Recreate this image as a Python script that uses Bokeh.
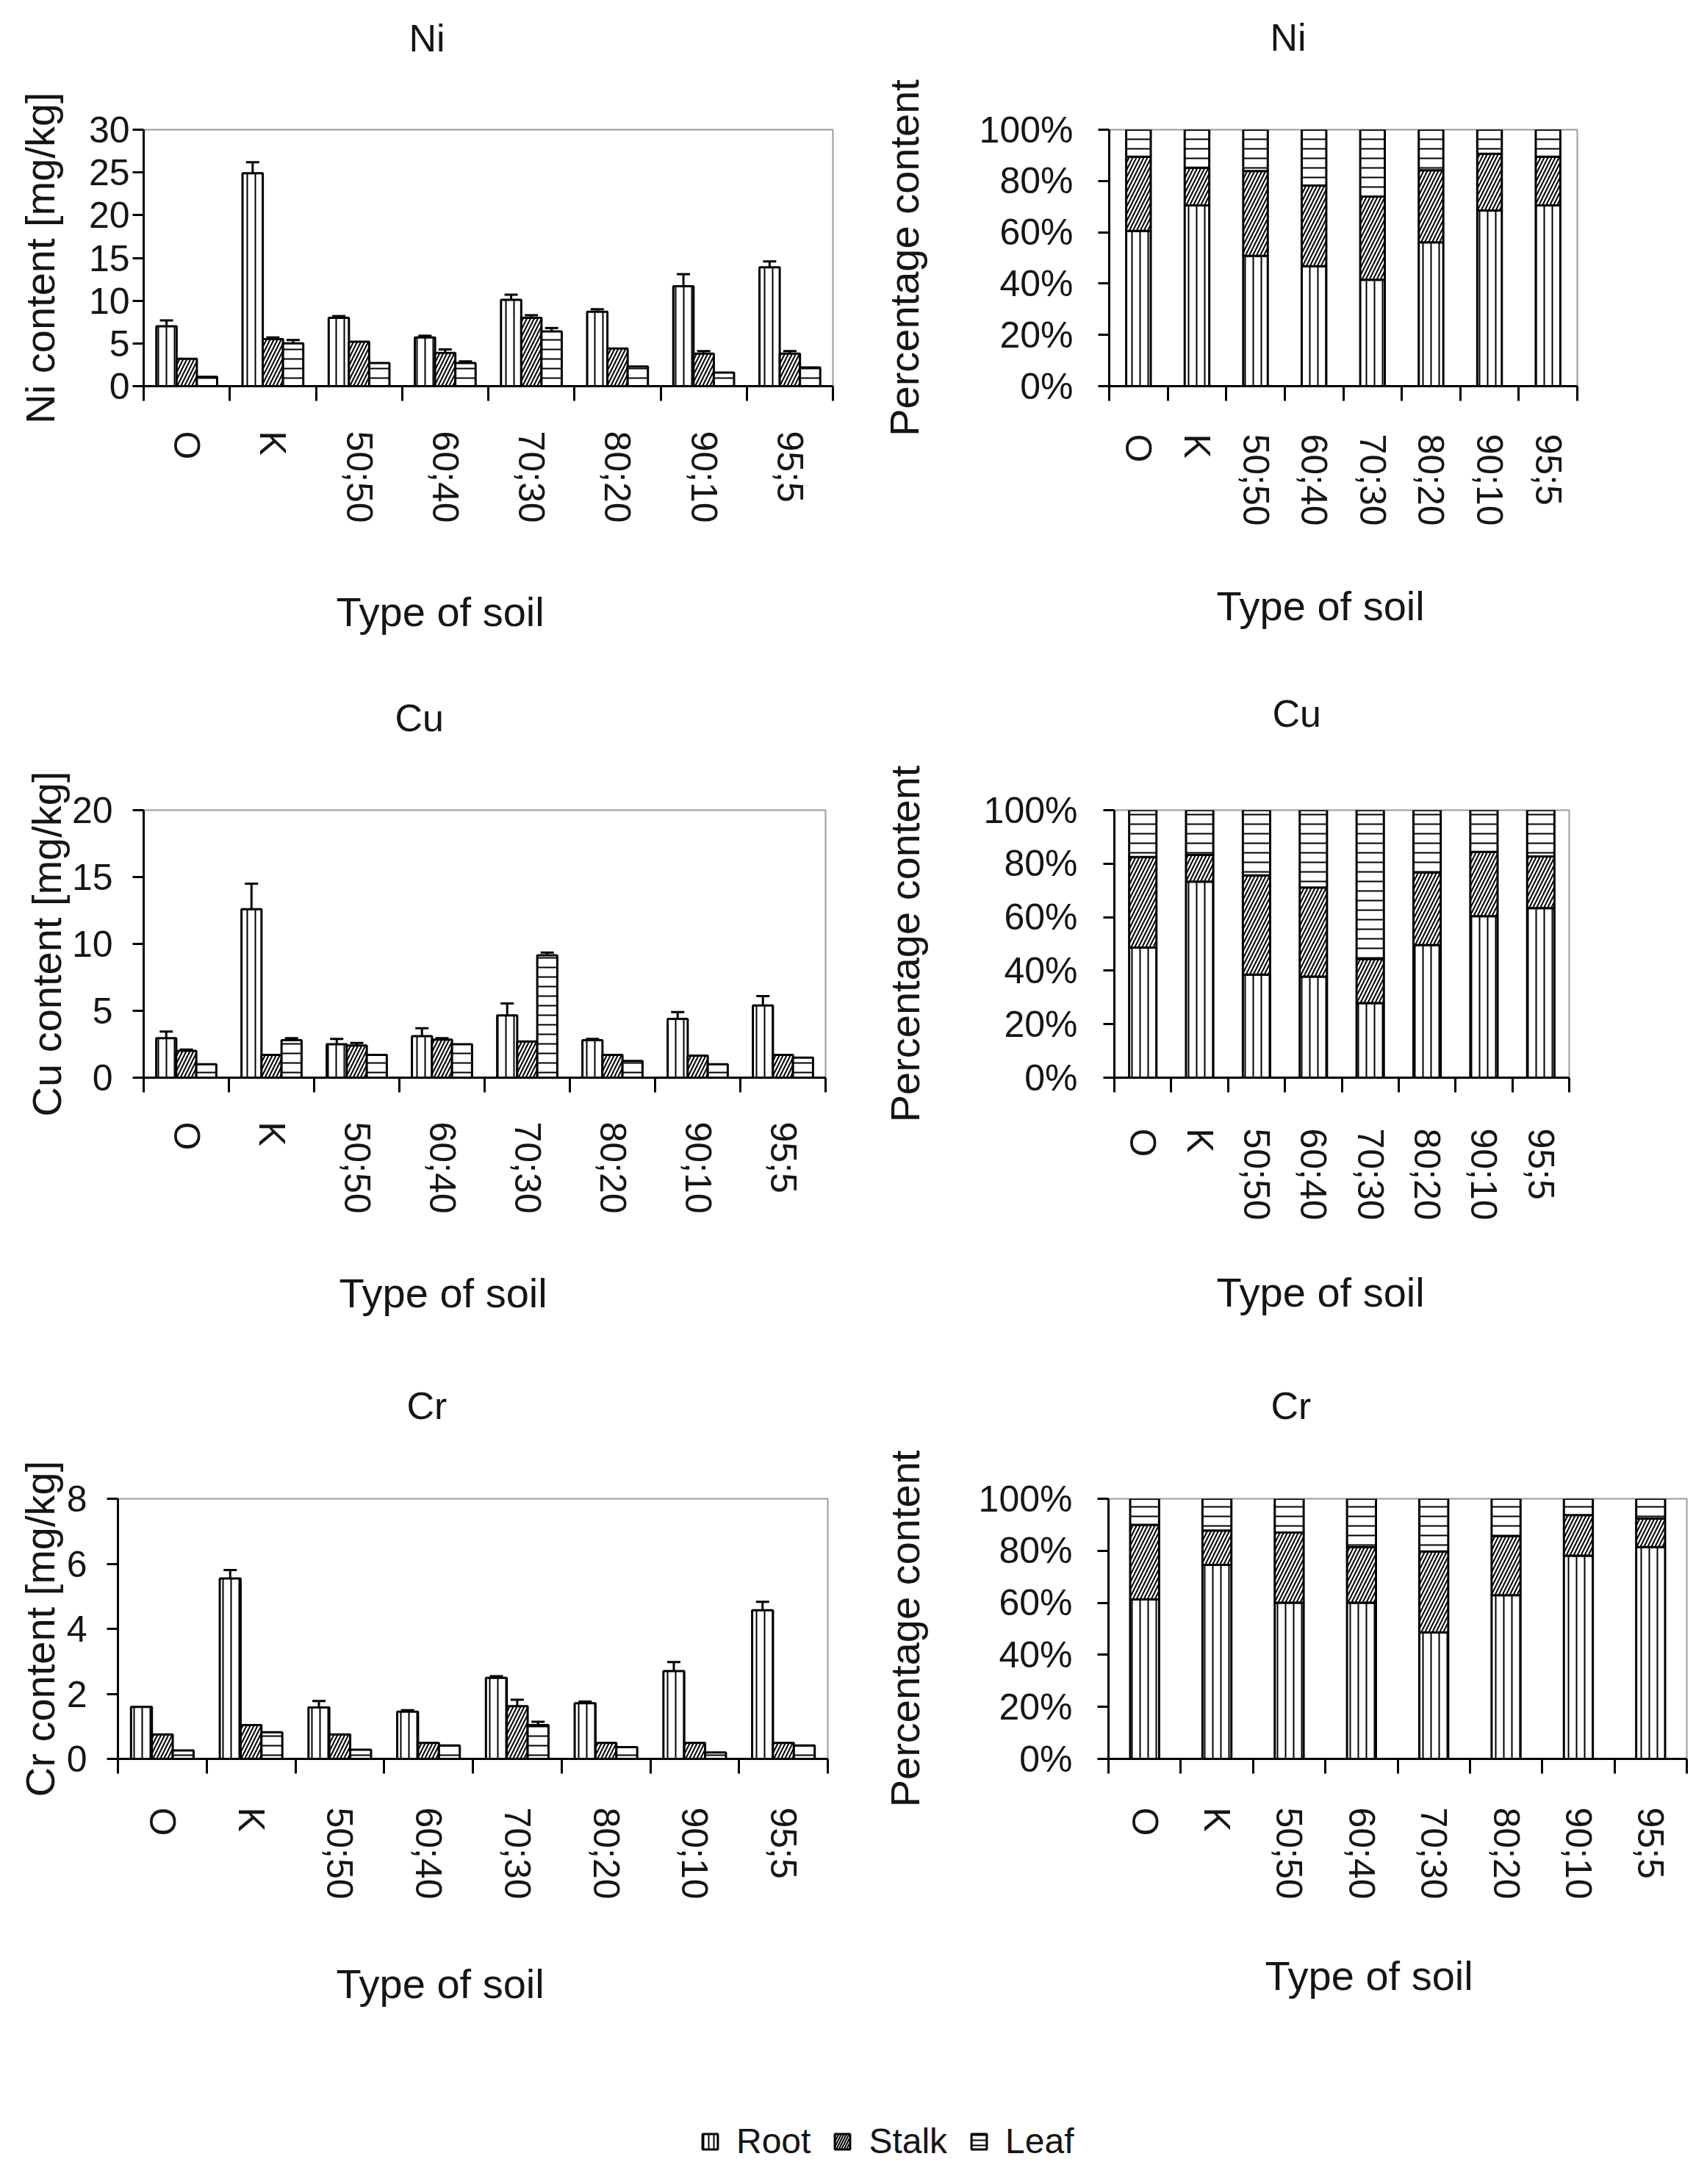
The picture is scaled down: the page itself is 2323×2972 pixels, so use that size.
import math
from bokeh.plotting import figure
from bokeh.models import (ColumnDataSource, FixedTicker, Whisker, TeeHead, Title,
                          PrintfTickFormatter, Legend, LegendItem, Range1d)
from bokeh.layouts import row, column
from bokeh.embed import file_html
from bokeh.resources import INLINE

# ---------------- data ----------------
soils = ["O", "K", "50;50", "60;40", "70;30", "80;20", "90;10", "95;5"]
parts = ["Root", "Stalk", "Leaf"]

# absolute contents [mg/kg]
ni_root = [7.0, 24.9, 8.0, 5.7, 10.1, 8.7, 11.7, 13.9]
ni_root_err = [0.7, 1.3, 0.2, 0.2, 0.6, 0.3, 1.4, 0.7]
ni_stalk = [3.2, 5.5, 5.2, 3.9, 8.0, 4.4, 3.8, 3.8]
ni_stalk_err = [0.0, 0.2, 0.0, 0.4, 0.3, 0.0, 0.3, 0.3]
ni_leaf = [1.1, 5.0, 2.7, 2.7, 6.4, 2.3, 1.6, 2.2]
ni_leaf_err = [0.0, 0.4, 0.0, 0.2, 0.4, 0.0, 0.0, 0.0]

cu_root = [2.95, 12.6, 2.5, 3.1, 4.65, 2.8, 4.4, 5.4]
cu_root_err = [0.5, 1.9, 0.4, 0.6, 0.9, 0.1, 0.5, 0.7]
cu_stalk = [2.0, 1.7, 2.4, 2.85, 2.7, 1.7, 1.65, 1.7]
cu_stalk_err = [0.1, 0.0, 0.2, 0.1, 0.0, 0.0, 0.0, 0.0]
cu_leaf = [1.0, 2.8, 1.7, 2.5, 9.15, 1.25, 1.0, 1.5]
cu_leaf_err = [0.0, 0.15, 0.0, 0.0, 0.2, 0.0, 0.0, 0.0]

cr_root = [1.6, 5.55, 1.58, 1.45, 2.49, 1.71, 2.7, 4.57]
cr_root_err = [0.0, 0.26, 0.2, 0.05, 0.05, 0.05, 0.28, 0.26]
cr_stalk = [0.75, 1.04, 0.75, 0.49, 1.62, 0.49, 0.49, 0.49]
cr_stalk_err = [0.0, 0.0, 0.0, 0.0, 0.2, 0.0, 0.0, 0.0]
cr_leaf = [0.26, 0.82, 0.28, 0.41, 1.04, 0.36, 0.2, 0.41]
cr_leaf_err = [0.0, 0.0, 0.0, 0.0, 0.1, 0.0, 0.0, 0.0]

# percentage content [%]
ni_root_pct = [60.5, 70.5, 50.8, 46.8, 41.5, 56.1, 68.5, 70.5]
ni_stalk_pct = [29.0, 14.7, 33.1, 31.4, 32.4, 28.1, 22.1, 19.0]
ni_leaf_pct = [10.5, 14.8, 16.1, 21.8, 26.1, 15.8, 9.4, 10.5]

cu_root_pct = [48.6, 73.3, 38.5, 37.8, 27.9, 49.6, 60.4, 63.4]
cu_stalk_pct = [33.9, 10.0, 37.1, 33.3, 16.5, 27.1, 24.0, 19.3]
cu_leaf_pct = [17.5, 16.7, 24.4, 28.9, 55.6, 23.3, 15.6, 17.3]

cr_root_pct = [61.3, 74.6, 60.0, 60.0, 48.6, 62.9, 78.1, 81.4]
cr_stalk_pct = [28.7, 13.2, 27.0, 21.4, 31.1, 22.7, 15.6, 11.0]
cr_leaf_pct = [10.0, 12.2, 13.0, 18.6, 20.3, 14.4, 6.3, 7.6]

ni_ticks = [0, 5, 10, 15, 20, 25, 30]
cu_ticks = [0, 5, 10, 15, 20]
cr_ticks = [0, 2, 4, 6, 8]
pct_ticks = [0, 20, 40, 60, 80, 100]

# ---------------- style ----------------
FONT = "Liberation Sans"
TXT = "#151515"
HATCH = {"Root": "|", "Stalk": "/", "Leaf": "-"}
HSCALE = {"Root": 11, "Stalk": 10, "Leaf": 13}


def spacer(gap):
    # blank title used only to reserve vertical room in a side panel
    return Title(text=" ", text_font=FONT, text_font_size="10px", standoff=gap)


def make_fig(width, height, borders, ymax, yticks, title, t_off, t_gap, x_off, x_gap,
             ylabel, ylab_so, ytick_so, xtick_so, pct=False):
    l, r, t, b = borders
    n = len(soils)
    p = figure(width=width, height=height, output_backend="svg", toolbar_location=None,
               x_range=Range1d(0, n), y_range=Range1d(0, ymax),
               min_border_left=l, min_border_right=r, min_border_top=t, min_border_bottom=b)
    p.title_location = None
    p.grid.visible = False
    p.outline_line_color = "#9a9a9a"
    p.outline_line_width = 2
    p.background_fill_color = "white"
    p.border_fill_color = "white"

    # chart title (above, pushed up by a blank spacer next to the frame)
    p.add_layout(spacer(t_gap), "above")
    p.add_layout(Title(text=title, align="left", offset=t_off, standoff=0,
                       text_font=FONT, text_font_size="52px", text_font_style="normal",
                       text_color=TXT), "above")

    centers = [i + 0.5 for i in range(n)]
    xa = p.xaxis[0]
    xa.ticker = FixedTicker(ticks=centers, minor_ticks=list(range(n + 1)))
    xa.major_label_overrides = {c: s for c, s in zip(centers, soils)}
    xa.major_label_orientation = -math.pi / 2
    xa.major_tick_out = 0
    xa.major_tick_in = 0
    xa.minor_tick_out = 20
    xa.minor_tick_in = 0
    xa.minor_tick_line_color = "black"
    xa.minor_tick_line_width = 3
    xa.axis_line_color = "black"
    xa.axis_line_width = 3
    xa.major_label_text_font = FONT
    xa.major_label_text_font_size = "50px"
    xa.major_label_text_color = TXT
    xa.major_label_standoff = xtick_so

    # x-axis title (below the tick labels)
    p.add_layout(spacer(x_gap), "below")
    p.add_layout(Title(text="Type of soil", align="left", offset=x_off, standoff=0,
                       text_font=FONT, text_font_size="56px", text_font_style="normal",
                       text_color=TXT), "below")

    ya = p.yaxis[0]
    ya.ticker = FixedTicker(ticks=yticks)
    if pct:
        ya.formatter = PrintfTickFormatter(format="%d%%")
    ya.major_tick_out = 15
    ya.major_tick_in = 0
    ya.minor_tick_out = 0
    ya.minor_tick_in = 0
    ya.major_tick_line_width = 3
    ya.major_tick_line_color = "black"
    ya.axis_line_color = "black"
    ya.axis_line_width = 3
    ya.major_label_text_font = FONT
    ya.major_label_text_font_size = "50px"
    ya.major_label_text_color = TXT
    ya.major_label_standoff = ytick_so
    ya.axis_label = ylabel
    ya.axis_label_text_font = FONT
    ya.axis_label_text_font_size = "56px"
    ya.axis_label_text_font_style = "normal"
    ya.axis_label_text_color = TXT
    ya.axis_label_standoff = ylab_so
    return p


def add_grouped(p, series, errs):
    n = len(soils)
    w = 0.235
    offs = [-w, 0.0, w]
    for part, vals, err, off in zip(parts, series, errs, offs):
        xs = [i + 0.5 + off for i in range(n)]
        src = ColumnDataSource(dict(x=xs, top=vals))
        p.vbar(x="x", top="top", width=w, source=src, fill_color="white",
               line_color="black", line_width=3, hatch_pattern=HATCH[part],
               hatch_color="black", hatch_weight=2, hatch_scale=HSCALE[part])
        ex = [x for x, e in zip(xs, err) if e > 0]
        ev = [v for v, e in zip(vals, err) if e > 0]
        ee = [e for e in err if e > 0]
        if ex:
            es = ColumnDataSource(dict(base=ex, lower=[v - e for v, e in zip(ev, ee)],
                                       upper=[v + e for v, e in zip(ev, ee)]))
            wh = Whisker(base="base", lower="lower", upper="upper", source=es,
                         dimension="height", line_color="black", line_width=3,
                         upper_head=TeeHead(size=18, line_width=3, line_color="black"),
                         lower_head=TeeHead(size=18, line_width=3, line_color="black"))
            p.add_layout(wh)


def add_stacked(p, series, width):
    n = len(soils)
    data = dict(x=[i + 0.5 for i in range(n)])
    for part, vals in zip(parts, series):
        data[part] = vals
    src = ColumnDataSource(data)
    p.vbar_stack(parts, x="x", width=width, source=src, fill_color="white",
                 line_color="black", line_width=3,
                 hatch_pattern=[HATCH[pt] for pt in parts], hatch_color="black",
                 hatch_weight=2, hatch_scale=[HSCALE[pt] for pt in parts])


LW, RW = 1160, 1147

# frames (page px): TL 203-1133 x 180-533 ; TR 1517-2154 x 184-540
tl = make_fig(LW, 880, (195, 27, 172, 355), 30, ni_ticks, "Ni", 361, 83, 262, 71,
              "Ni content [mg/kg]", 32, 4, 41)
add_grouped(tl, [ni_root, ni_stalk, ni_leaf], [ni_root_err, ni_stalk_err, ni_leaf_err])

tr = make_fig(RW, 880, (349, 161, 176, 348), 100, pct_ticks, "Ni", 219, 84, 146, 59,
              "Percentage content", 68, 34, 45, pct=True)
add_stacked(tr, [ni_root_pct, ni_stalk_pct, ni_leaf_pct], 0.42)

# frames: ML 203-1123 x 1104-1474 ; MR 1524-2143 x 1110-1497
ml = make_fig(LW, 942, (195, 37, 216, 356), 20, cu_ticks, "Cu", 342, 84, 266, 58,
              "Cu content [mg/kg]", 0, 27, 40)
add_grouped(ml, [cu_root, cu_stalk, cu_leaf], [cu_root_err, cu_stalk_err, cu_leaf_err])

mr = make_fig(RW, 942, (356, 172, 222, 333), 100, pct_ticks, "Cu", 215, 90, 139, 48,
              "Percentage content", 73, 35, 49, pct=True)
add_stacked(mr, [cu_root_pct, cu_stalk_pct, cu_leaf_pct], 0.48)

# frames: BL 168-1126 x 2047-2401 ; BR 1516-2303 x 2047-2401
bl = make_fig(LW, 950, (160, 34, 217, 379), 8, cr_ticks, "Cr", 393, 85, 297, 65,
              "Cr content [mg/kg]", 2, 27, 46)
add_grouped(bl, [cr_root, cr_stalk, cr_leaf], [cr_root_err, cr_stalk_err, cr_leaf_err])

br = make_fig(RW, 950, (348, 12, 217, 379), 100, pct_ticks, "Cr", 221, 85, 213, 54,
              "Percentage content", 66, 34, 46, pct=True)
add_stacked(br, [cr_root_pct, cr_stalk_pct, cr_leaf_pct], 0.4)

# legend strip
lf = figure(width=LW + RW, height=180, output_backend="svg", toolbar_location=None,
            x_range=Range1d(0, 1), y_range=Range1d(0, 1), min_border=0,
            x_axis_location=None, y_axis_location=None)
lf.title_location = None
lf.grid.visible = False
lf.outline_line_color = None
hidden = ColumnDataSource(dict(x=[float("nan")], top=[float("nan")]))
items = []
for part in parts:
    r = lf.vbar(x="x", top="top", width=0.1, source=hidden,
                fill_color="white", line_color="black", line_width=3,
                hatch_pattern=HATCH[part], hatch_color="black", hatch_weight=2,
                hatch_scale=7)
    items.append(LegendItem(label=part, renderers=[r]))
leg = Legend(items=items, orientation="horizontal", location=(953, 11),
             label_text_font=FONT, label_text_font_size="48px", label_text_color=TXT,
             glyph_width=26, glyph_height=26, label_standoff=23, spacing=30,
             padding=0, margin=0, border_line_color=None, background_fill_alpha=0)
lf.add_layout(leg)

page = column(row(tl, tr), row(ml, mr), row(bl, br), lf)
open("out.html", "w").write(file_html(page, INLINE))
